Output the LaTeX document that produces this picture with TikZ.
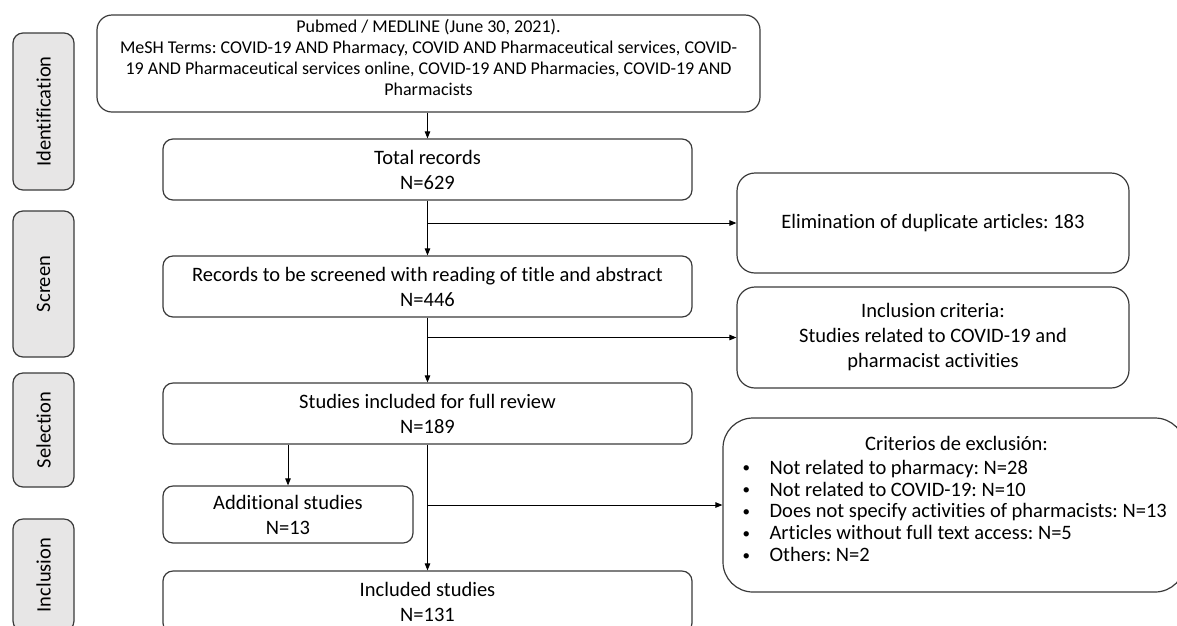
\documentclass[tikz,border=0pt]{standalone}
\usepackage{fontspec}
\setmainfont{Carlito}[Ligatures=NoCommon]
\usetikzlibrary{arrows.meta}
\definecolor{edge}{HTML}{3A3A3A}
\definecolor{sidefill}{HTML}{E7E6E6}
\newcommand{\blt}{\makebox[27pt][l]{\raisebox{1.5pt}{\fontsize{15}{15}\selectfont•}}}
\frenchspacing
\begin{document}
\begin{tikzpicture}[x=1pt,y=-1pt,
  base/.style={draw=edge,line width=1.2pt,align=center,inner sep=0pt,
    font=\fontsize{20.5}{25}\selectfont,text=black},
  mainbox/.style={base,rounded corners=10pt,minimum width=529pt,minimum height=61pt},
  sidebox/.style={base,fill=sidefill,rounded corners=10pt,minimum height=61pt,rotate=90},
  rightbox/.style={base,rounded corners=18pt,minimum width=392pt,minimum height=100pt},
  conn/.style={draw=black,line width=0.9pt},
  arr/.style={conn,-{Triangle[length=7pt,width=5.5pt]}}]
\useasboundingbox (0,0) rectangle (1177,625);
\begin{scope}
\clip (0,0) rectangle (1177,625);
% side labels
\node[sidebox,minimum width=157pt] (sid) at (43.5,111.5) {Identification};
\node[sidebox,minimum width=146pt] (sscr) at (43.5,284) {Screen};
\node[sidebox,minimum width=114pt] (ssel) at (43.5,430) {Selection};
\node[sidebox,minimum width=112pt] (sinc) at (43.5,575) {Inclusion};
% main column
\node[base,rounded corners=15pt,minimum width=663pt,minimum height=97pt,
  text depth=13pt,font=\fontsize{18}{21}\selectfont] (pub) at (428.5,63.5)
  {Pubmed / MEDLINE (June 30, 2021).\\
   MeSH Terms: COVID-19 AND Pharmacy, COVID AND Pharmaceutical services, COVID-\\
   19 AND Pharmaceutical services online, COVID-19 AND Pharmacies, COVID-19 AND\\
   Pharmacists};
\node[mainbox] (total) at (427.5,169.5) {Total records\\N=629};
\node[mainbox] (scr) at (427.5,286.5) {Records to be screened with reading of title and abstract\\N=446};
\node[mainbox] (full) at (427.5,413.5) {Studies included for full review\\N=189};
\node[base,rounded corners=10pt,minimum width=250pt,minimum height=57pt] (add) at (288,514.5) {Additional studies\\N=13};
\node[mainbox,minimum height=62pt] (incl) at (427.5,602) {Included studies\\N=131};
% right column
\node[rightbox] (elim) at (933,223) {Elimination of duplicate articles: 183};
\node[rightbox,minimum height=101pt] (incc) at (933,337.5) {Inclusion criteria:\\Studies related to COVID-19 and\\pharmacist activities};
\node[base,rounded corners=30pt,minimum width=462pt,minimum height=174pt] (excl) at (954,505) {};
\node[base,draw=none,align=left,anchor=west,
  font=\fontsize{20.5}{21.8}\selectfont] (excltext) at (742,499)
  {\makebox[428pt][c]{Criterios de exclusión:}\\[2pt]
   \blt Not related to pharmacy: N=28\\
   \blt Not related to COVID-19: N=10\\
   \blt Does not specify activities of pharmacists: N=13\\
   \blt Articles without full text access: N=5\\
   \blt Others: N=2};
% connectors
\coordinate (p1) at (pub.south -| total.north);
\draw[arr] (p1) -- (total.north);
\draw[arr] (total.south) -- (scr.north);
\coordinate (j1) at (total.south |- elim.west);
\draw[arr] (j1) -- (elim.west);
\draw[arr] (scr.south) -- (full.north);
\coordinate (j2) at (scr.south |- incc.west);
\draw[arr] (j2) -- (incc.west);
\draw[arr] (full.south) -- (incl.north);
\coordinate (a1) at (add.north |- full.south);
\draw[arr] (a1) -- (add.north);
\coordinate (j3) at (full.south |- excl.west);
\draw[arr] (j3) -- (excl.west);
\end{scope}
\end{tikzpicture}
\end{document}
